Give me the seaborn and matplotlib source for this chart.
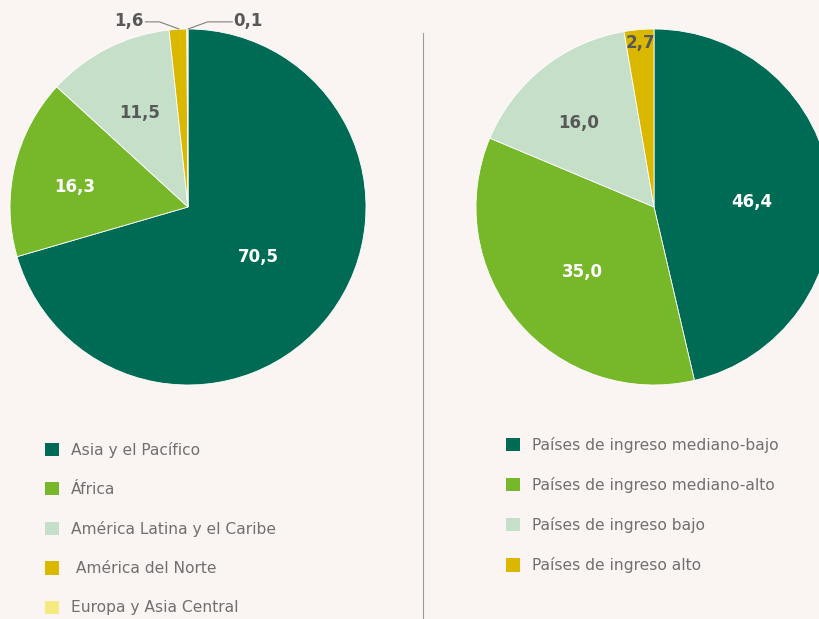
import matplotlib
matplotlib.use("Agg")
import matplotlib.pyplot as plt
import seaborn as sns
from matplotlib.patches import Patch

# Data
regions = ["Asia y el Pacífico", "África", "América Latina y el Caribe",
           " América del Norte", "Europa y Asia Central"]
region_vals = [70.5, 16.3, 11.5, 1.6, 0.1]
region_labels = ["70,5", "16,3", "11,5", "1,6", "0,1"]

income = ["Países de ingreso mediano-bajo", "Países de ingreso mediano-alto",
          "Países de ingreso bajo", "Países de ingreso alto"]
income_vals = [46.4, 35.0, 16.0, 2.7]
income_labels = ["46,4", "35,0", "16,0", "2,7"]

bg = "#faf5f2"
txt = "#707070"
num_grey = "#585858"
palette = sns.color_palette(["#006b54", "#77b82a", "#c5dfc8", "#dbb800", "#f5ea80"])

sns.set_theme(style="white")
plt.rcParams["font.family"] = ["DejaVu Sans"]

W, H = 820, 619
fig = plt.figure(figsize=(W / 100, H / 100), dpi=100, facecolor=bg)


def px_axes(cx, cy, r):
    return fig.add_axes([(cx - r) / W, (H - cy - r) / H, 2 * r / W, 2 * r / H])


def draw_pie(ax, vals, cols):
    wedges, _ = ax.pie(vals, colors=cols, startangle=90, counterclock=False,
                       radius=1, wedgeprops=dict(edgecolor="white", linewidth=0.6))
    ax.set_xlim(-1, 1)
    ax.set_ylim(-1, 1)
    ax.set_aspect("equal")
    ax.axis("off")
    ax.set_facecolor("none")
    return wedges


axL = px_axes(188, 207, 178)
draw_pie(axL, region_vals, palette[:5])
lbl_kw = dict(ha="center", va="center", fontsize=12, fontweight="bold")
axL.text(0.393, -0.281, region_labels[0], color="white", **lbl_kw)
axL.text(-0.635, 0.113, region_labels[1], color="white", **lbl_kw)
axL.text(-0.27, 0.53, region_labels[2], color=num_grey, **lbl_kw)
axL.text(-0.33, 1.045, region_labels[3], color=num_grey, clip_on=False, **lbl_kw)
axL.text(0.335, 1.045, region_labels[4], color=num_grey, clip_on=False, **lbl_kw)
axL.plot([-0.24, -0.16, -0.05], [1.04, 1.04, 1.0], color="#808080", lw=0.8, clip_on=False)
axL.plot([0.0, 0.11, 0.25], [1.0, 1.04, 1.04], color="#808080", lw=0.8, clip_on=False)

axR = px_axes(654, 207, 178)
draw_pie(axR, income_vals, palette[:4])
axR.text(0.551, 0.028, income_labels[0], color="white", **lbl_kw)
axR.text(-0.404, -0.365, income_labels[1], color="white", **lbl_kw)
axR.text(-0.421, 0.472, income_labels[2], color=num_grey, **lbl_kw)
axR.text(-0.079, 0.921, income_labels[3], color=num_grey, **lbl_kw)

# divider
fig.add_artist(plt.Line2D([423 / W, 423 / W], [0, 1 - 33 / H], color="#9a9a9a", lw=0.8))

leg_kw = dict(frameon=False, fontsize=11.2, labelcolor=txt, handlelength=0.92,
              handleheight=0.92, handletextpad=0.75, labelspacing=1.55,
              borderpad=0, borderaxespad=0, loc="upper left")
hL = [Patch(facecolor=c, edgecolor="none") for c in palette[:5]]
fig.legend(hL, regions, bbox_to_anchor=(45 / W, 1 - 442 / H), **leg_kw)
hR = [Patch(facecolor=c, edgecolor="none") for c in palette[:4]]
fig.legend(hR, income, bbox_to_anchor=(506 / W, 1 - 437 / H), **leg_kw)

fig.savefig("out.png", dpi=100, facecolor=bg)
